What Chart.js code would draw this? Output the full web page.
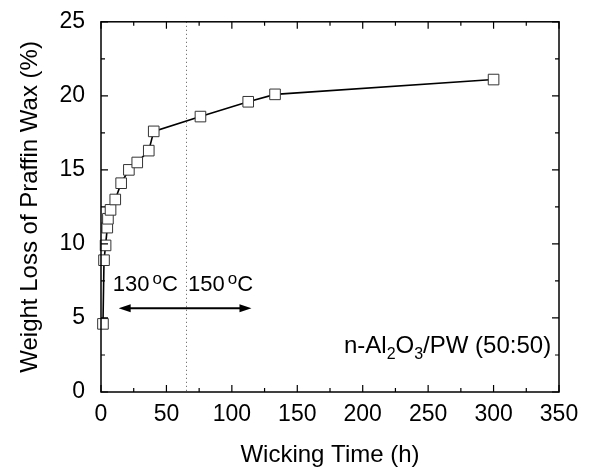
<!DOCTYPE html>
<html>
<head>
<meta charset="utf-8">
<script src="https://cdn.jsdelivr.net/npm/chart.js@4.4.1/dist/chart.umd.min.js"></script>
<style>
  html, body { margin: 0; padding: 0; background: #fff; }
  #wrap { width: 590px; height: 467px; }
</style>
</head>
<body>
<div id="wrap"><canvas id="chart" width="590" height="467"></canvas></div>
<script>
// data
const timeHours = [1.5, 2.3, 3.5, 4.8, 5.3, 7.3, 10.9, 15.4, 21.3, 27.7, 36.5, 40.3, 76, 112.5, 133, 300];
const weightLoss = [4.6, 8.9, 9.9, 11.1, 11.7, 12.3, 13.0, 14.1, 15.0, 15.5, 16.3, 17.6, 18.6, 19.6, 20.1, 21.1];
const xTicks = [0, 50, 100, 150, 200, 250, 300, 350];
const yTicks = [0, 5, 10, 15, 20, 25];
const switchTime = 65;          // dotted line, 130 -> 150 °C
const arrowFrom = 13.5, arrowTo = 115, arrowLevel = 5.65;

const FONT = '"Liberation Sans", Arial, Helvetica, sans-serif';

// frame, inward ticks, dotted line, arrow and labels
const decorations = {
  id: 'decorations',
  afterDraw(chart) {
    const { ctx, chartArea: a, scales: { x, y } } = chart;
    ctx.save();

    // dotted line
    ctx.strokeStyle = '#555';
    ctx.lineWidth = 1;
    ctx.setLineDash([1, 3]);
    const xd = Math.round(x.getPixelForValue(switchTime)) + 0.5;
    ctx.beginPath();
    ctx.moveTo(xd, a.top);
    ctx.lineTo(xd, a.bottom);
    ctx.stroke();
    ctx.setLineDash([]);

    // frame
    ctx.strokeStyle = '#000';
    ctx.lineWidth = 1.5;
    ctx.strokeRect(a.left, a.top, a.right - a.left, a.bottom - a.top);

    // ticks pointing inward on all sides
    ctx.lineWidth = 1.2;
    ctx.beginPath();
    for (let v = 0; v <= 350; v += 25) {
      const px = x.getPixelForValue(v);
      const len = v % 50 === 0 ? 7 : 4;
      ctx.moveTo(px, a.bottom); ctx.lineTo(px, a.bottom - len);
      ctx.moveTo(px, a.top); ctx.lineTo(px, a.top + len);
    }
    for (let v = 0; v <= 25; v += 2.5) {
      const py = y.getPixelForValue(v);
      const len = v % 5 === 0 ? 7 : 4;
      ctx.moveTo(a.left, py); ctx.lineTo(a.left + len, py);
      ctx.moveTo(a.right, py); ctx.lineTo(a.right - len, py);
    }
    ctx.stroke();

    // double arrow
    const x1 = x.getPixelForValue(arrowFrom);
    const x2 = x.getPixelForValue(arrowTo);
    const ya = y.getPixelForValue(arrowLevel);
    ctx.lineWidth = 2;
    ctx.beginPath();
    ctx.moveTo(x1 + 6, ya); ctx.lineTo(x2 - 6, ya);
    ctx.stroke();
    ctx.fillStyle = '#000';
    ctx.beginPath();
    ctx.moveTo(x1, ya); ctx.lineTo(x1 + 12, ya - 4); ctx.lineTo(x1 + 12, ya + 4); ctx.closePath();
    ctx.moveTo(x2, ya); ctx.lineTo(x2 - 12, ya - 4); ctx.lineTo(x2 - 12, ya + 4); ctx.closePath();
    ctx.fill();

    // temperature labels
    ctx.textBaseline = 'alphabetic';
    ctx.textAlign = 'left';
    const tempLabel = (num, tx, ty) => {
      let cx = x.getPixelForValue(tx);
      const by = y.getPixelForValue(ty);
      ctx.font = '22px ' + FONT;
      ctx.fillText(num, cx, by);
      cx += ctx.measureText(num).width + 3;
      ctx.font = '17px ' + FONT;
      ctx.fillText('o', cx, by - 7);
      cx += ctx.measureText('o').width;
      ctx.font = '22px ' + FONT;
      ctx.fillText('C', cx, by);
    };
    tempLabel('130', 9, 6.8);
    tempLabel('150', 66.5, 6.8);

    // sample label, right aligned
    const parts = [['n-Al', 0], ['2', 1], ['O', 0], ['3', 1], ['/PW (50:50)', 0]];
    const big = '24px ' + FONT, small = '16px ' + FONT;
    let total = 0;
    parts.forEach(([t, s]) => { ctx.font = s ? small : big; total += ctx.measureText(t).width; });
    let sx = x.getPixelForValue(344) - total;
    const sy = y.getPixelForValue(2.66);
    parts.forEach(([t, s]) => {
      ctx.font = s ? small : big;
      ctx.fillText(t, sx, s ? sy + 6 : sy);
      sx += ctx.measureText(t).width;
    });

    ctx.restore();
  }
};

new Chart(document.getElementById('chart'), {
  type: 'line',
  data: {
    datasets: [{
      data: timeHours.map((t, i) => ({ x: t, y: weightLoss[i] })),
      borderColor: '#000',
      borderWidth: 1.6,
      tension: 0,
      pointStyle: 'rect',
      pointRadius: 7.5,
      pointBorderWidth: 1,
      pointBorderColor: '#333',
      pointBackgroundColor: '#fff',
      clip: false
    }]
  },
  options: {
    responsive: false,
    animation: false,
    layout: { padding: { left: 0, right: 31, top: 16, bottom: 0 } },
    plugins: {
      legend: { display: false },
      tooltip: { enabled: false }
    },
    scales: {
      x: {
        type: 'linear',
        min: 0, max: 350,
        grid: { display: false },
        border: { display: false },
        afterFit: s => { s.height = 75; },
        afterBuildTicks: s => { s.ticks = xTicks.map(v => ({ value: v })); },
        ticks: { color: '#000', padding: 1, font: { family: FONT, size: 23 } },
        title: {
          display: true,
          text: 'Wicking Time (h)',
          color: '#000',
          padding: { top: 0, bottom: 0 },
          font: { family: FONT, size: 24, lineHeight: 1 }
        }
      },
      y: {
        min: 0, max: 25,
        grid: { display: false },
        border: { display: false },
        afterFit: s => { s.width = 101; },
        afterBuildTicks: s => { s.ticks = yTicks.map(v => ({ value: v })); },
        ticks: { color: '#000', padding: 8, font: { family: FONT, size: 23 } },
        title: {
          display: true,
          text: 'Weight Loss of Praffin Wax (%)',
          color: '#000',
          padding: { top: 16, bottom: 0 },
          font: { family: FONT, size: 24, lineHeight: 1.2 }
        }
      }
    }
  },
  plugins: [decorations]
});
</script>
</body>
</html>
